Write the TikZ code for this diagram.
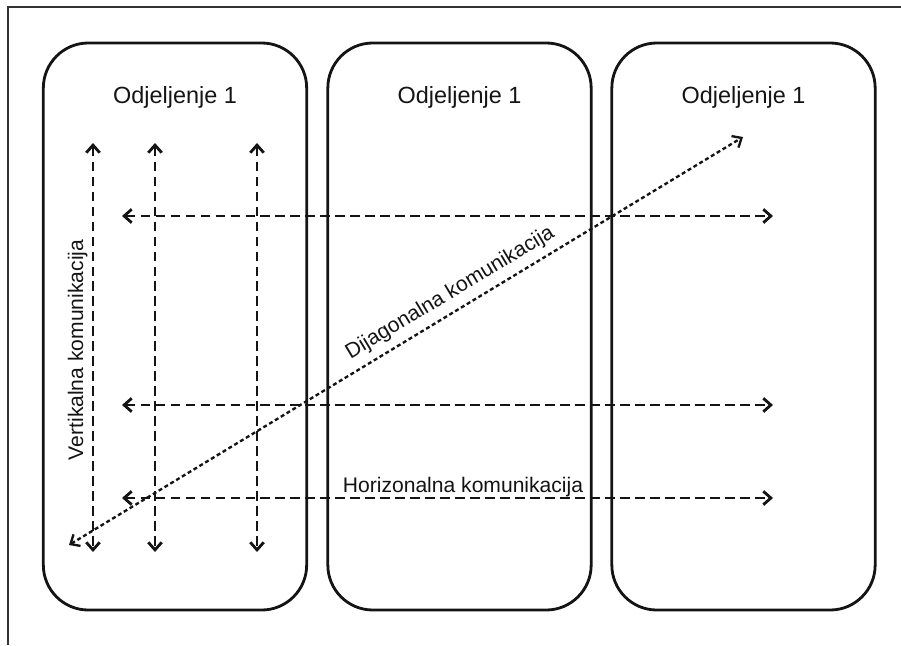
\documentclass[tikz,border=0pt]{standalone}
\usepackage{fontspec}
\setmainfont{Liberation Sans}
\usetikzlibrary{
	positioning
	,arrows.meta
}
\newcommand{\conn}[3][]{
	\draw (#2) edge[#1] (#3);
}
\tikzset{
	>={Straight Barb[length=6.5pt,width=11.5pt]}
	,every picture/.append style={line width=2.4pt, black!92}
}
\tikzset{
	dept/.style={
		draw,
		rectangle,
		rounded corners=1.35cm,
		minimum width=7.9cm,
		minimum height=17.01cm,
	},
	title/.style={
		font=\fontsize{20}{24}\selectfont,
		inner sep=0pt
	},
	lbl/.style={
		font=\fontsize{18}{22}\selectfont,
		inner sep=0pt
	},
	flow/.style={
		<->,
		dash pattern=on 8.5pt off 4.3pt
	},
	diag/.style={
		<->,
		line width=2pt,
		dash pattern=on 3.4pt off 2.4pt
	}
}

\begin{document}
\begin{tikzpicture}[x=0.03cm,y=-0.03cm]
	\useasboundingbox (0,0) rectangle (901,645);
	\draw[line width=1.6pt, black!80] (901,7) -- (8,7) -- (8,645);

	\foreach \i/\x in{
		1/175,2/459.5,3/743.5%
	}{
		\node[dept](d\i) at(\x,326.5){};
		\node[title, below=1.86cm of d\i.north, anchor=base](t\i){Odjeljenje 1};
	}

	\foreach \i/\x in{
		1/93,2/155,3/257%
	}{
		\coordinate (vt\i) at(\x,143);
		\coordinate (vb\i) at(\x,552);
		\conn[flow]{vt\i}{vb\i};
	}

	\foreach \i/\y in{
		1/216,2/405,3/498%
	}{
		\coordinate (hl\i) at(122,\y);
		\coordinate (hr\i) at(773,\y);
		\conn[flow]{hl\i}{hr\i};
	}

	\coordinate (dl) at(69,545);
	\coordinate (dr) at(743,137);
	\conn[diag]{dl}{dr};

	\node[lbl, rotate=90, anchor=base](vlab) at(83,350){Vertikalna komunikacija};
	\node[lbl, anchor=base](hlab) at(463,492){Horizonalna komunikacija};
	\node[lbl, rotate=31.05, anchor=base](dlab) at(453,298){Dijagonalna komunikacija};
\end{tikzpicture}
\end{document}
